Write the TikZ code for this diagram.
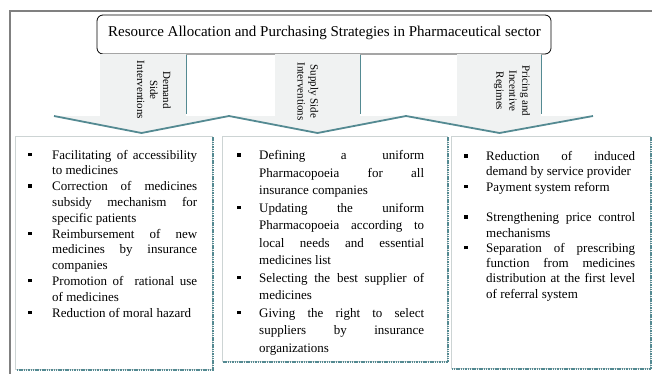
\documentclass[tikz,border=0pt]{standalone}
\usepackage{fontspec}
\setmainfont{Liberation Serif}
\definecolor{tealline}{RGB}{84,138,146}
\definecolor{shaftgray}{RGB}{240,242,242}
\definecolor{boxborder}{RGB}{205,212,212}
\definecolor{framegray}{RGB}{128,128,128}
\newlength\bw
\newcommand{\bitem}[1]{\par\noindent\hangindent=\bw\hangafter=1\hbox to \bw{\raise 3pt\hbox{\rule{3.5pt}{3.5pt}}\hfil}#1}
\begin{document}
\begin{tikzpicture}[x=1pt,y=-1pt,
  frame/.style={draw=framegray,line width=1.5pt},
  titlebox/.style={draw=black,line width=0.8pt,rounded corners=6pt,fill=white},
  shaft/.style={fill=shaftgray,draw=none},
  edgeline/.style={draw=tealline,line width=1.8pt,line join=round},
  shaftedge/.style={draw=tealline,line width=1pt},
  listbox/.style={draw=boxborder,line width=1pt,fill=white,inner sep=0pt},
  boxshadow/.style={draw=tealline,line width=1.5pt,dash pattern=on 1.5pt off 0.8pt},
  lab/.style={rotate=-90,align=center,inner sep=0pt,font=\fontsize{11}{13}\selectfont},
  txt/.style={anchor=north west,inner sep=0pt,align=justify,font=\fontsize{13}{15.8}\selectfont}
]
\useasboundingbox (0,0) rectangle (652,373);
% outer frame
\coordinate (fa) at (10,375);
\coordinate (fb) at (10,11);
\coordinate (fc) at (654,11);
\draw[frame] (fa) -- (fb) -- (fc);
% title
\draw[titlebox] (97,15) rectangle (551,54);
\node[inner sep=0pt,font=\fontsize{15}{17}\selectfont] (title) at (324.5,33) {Resource Allocation and Purchasing Strategies in Pharmaceutical sector};
% shafts and arrowheads
\fill[shaft] (100,53.5) rectangle (186,117);
\fill[shaft] (275,53.5) rectangle (360,117);
\fill[shaft] (457,53.5) rectangle (541,117);
\fill[shaft] (54,116) -- (229,116) -- (141.5,133) -- cycle;
\fill[shaft] (229,116) -- (406,116) -- (317.5,133) -- cycle;
\fill[shaft] (406,116) -- (593,116) -- (499.5,133) -- cycle;
\draw[shaftedge] (186,55) -- (186,114);
\draw[shaftedge] (360,55) -- (360,114);
\draw[shaftedge] (541,55) -- (541,114);
\draw[edgeline] (54,116) -- (141.5,133) -- (229,116) -- (317.5,133) -- (406,116) -- (499.5,133) -- (593,116);
% labels
\node[lab] (l1) at (154,90) {Demand\\Side\\Interventions};
\node[lab] (l2) at (308,91.5) {Supply Side\\Interventions};
\node[lab] (l3) at (512,91) {Pricing and\\Incentive\\Regimes};
% boxes
\draw[listbox] (15,136) rectangle (212,369);
\draw[boxshadow] (213,137) -- (213,370) -- (16,370);
\draw[listbox] (222,136) rectangle (447,361);
\draw[boxshadow] (448,137) -- (448,362) -- (223,362);
\draw[listbox] (451,136) rectangle (650,368);
\draw[boxshadow] (651,137) -- (651,369) -- (452,369);
% texts
\node[txt,text width=169pt] (t1) at (28,143) {\setlength\bw{24pt}\tolerance=10000\hbadness=10000
\bitem{Facilitating of accessibility\linebreak to medicines}
\bitem{Correction of medicines\linebreak subsidy mechanism for\linebreak specific patients}
\bitem{Reimbursement of new\linebreak medicines by insurance\linebreak companies}
\bitem{Promotion of\ \ rational use\linebreak of medicines}
\bitem{Reduction of moral hazard}\par};
\node[txt,text width=187pt,font=\fontsize{13}{17.5}\selectfont] (t2) at (237,142) {\setlength\bw{22pt}\tolerance=10000\hbadness=10000
\bitem{Defining a uniform\linebreak Pharmacopoeia for all\linebreak insurance companies}
\bitem{Updating the uniform\linebreak Pharmacopoeia according to\linebreak local needs and essential\linebreak medicines list}
\bitem{Selecting the best supplier of\linebreak medicines}
\bitem{Giving the right to select\linebreak suppliers by insurance\linebreak organizations}\par};
\node[txt,text width=171pt,font=\fontsize{13}{15.3}\selectfont] (t3) at (464,145) {\setlength\bw{22pt}\tolerance=10000\hbadness=10000
\bitem{Reduction of induced\linebreak demand by service provider}
\bitem{Payment system reform}
\par\mbox{}
\bitem{Strengthening price control\linebreak mechanisms}
\bitem{Separation of prescribing\linebreak function from medicines\linebreak distribution at the first level\linebreak of referral system}\par};
\end{tikzpicture}
\end{document}
